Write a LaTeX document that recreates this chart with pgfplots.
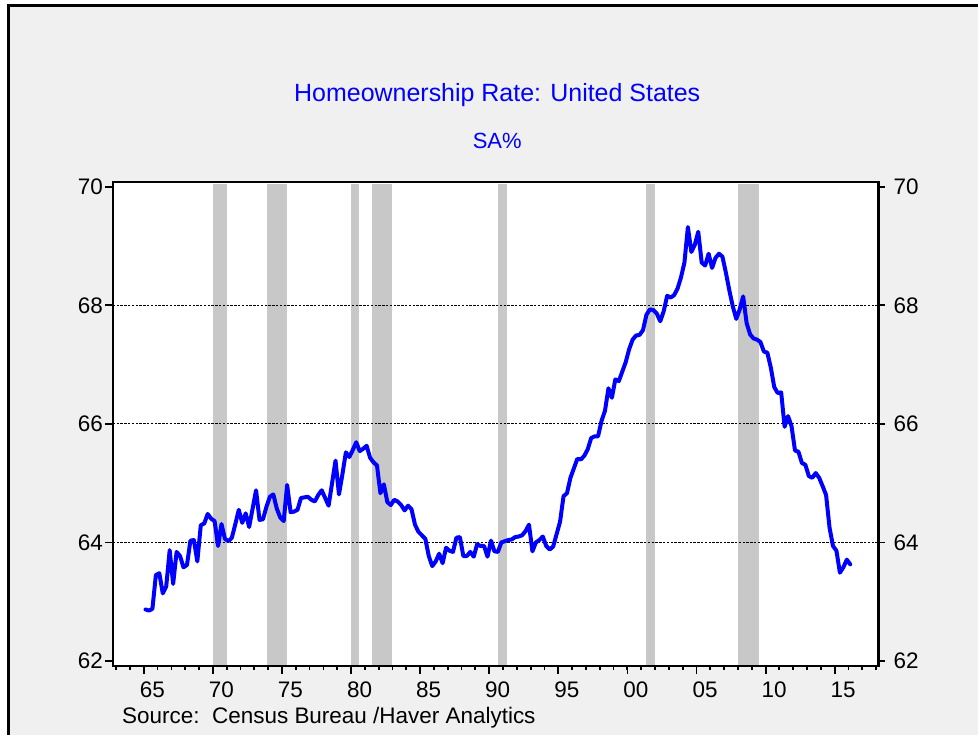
\documentclass[border=0pt]{standalone}
\usepackage{fontspec}
\setmainfont{Liberation Sans}
\usepackage{pgfplots}
\pgfplotsset{compat=1.18}
\definecolor{panel}{RGB}{240,240,240}
\definecolor{recess}{RGB}{200,200,200}
\definecolor{hblue}{RGB}{0,0,255}

\pgfplotsset{
  homebase/.style={
    at={(56.5pt,-333.5pt)}, anchor=south west,
    scale only axis, width=383.5pt, height=242.5pt,
    xmin=1962.76, xmax=2018.18, ymin=61.916, ymax=70.084,
    axis line style={line width=1.2pt},
    tick style={black, line width=0.9pt},
    tick align=outside,
    tick label style={font=\fontsize{11.25}{13}\selectfont},
    /pgf/number format/assume math mode=true,
  },
}

\begin{document}
\begin{tikzpicture}
\fill[white] (0,0) rectangle (489.5pt,-368pt);
\fill[panel] (4.5pt,-3pt) rectangle (489.5pt,-368pt);
\draw[line width=1.5pt] (4.5pt,-368pt) -- (4.5pt,-3pt) -- (489.5pt,-3pt);

\node[text=hblue, font=\fontsize{12.5}{15}\selectfont] at (249pt,-47.5pt) {Homeownership Rate: United States};
\node[text=hblue, font=\fontsize{11}{13}\selectfont] at (249pt,-70.5pt) {SA\%};
\node[anchor=west, inner sep=0pt, font=\fontsize{11.25}{13}\selectfont] at (61pt,-359.5pt) {Source:\ \ Census Bureau /Haver Analytics};

% plot area and recession shading
\begin{axis}[homebase,
    axis background/.style={fill=white},
    xtick=\empty, ytick=\empty,
]
\addplot[fill=recess, draw=none] coordinates {(1970.00,61.9) (1970.00,70.05) (1971.00,70.05) (1971.00,61.9)} --cycle;
\addplot[fill=recess, draw=none] coordinates {(1973.89,61.9) (1973.89,70.05) (1975.33,70.05) (1975.33,61.9)} --cycle;
\addplot[fill=recess, draw=none] coordinates {(1980.03,61.9) (1980.03,70.05) (1980.60,70.05) (1980.60,61.9)} --cycle;
\addplot[fill=recess, draw=none] coordinates {(1981.55,61.9) (1981.55,70.05) (1982.99,70.05) (1982.99,61.9)} --cycle;
\addplot[fill=recess, draw=none] coordinates {(1990.65,61.9) (1990.65,70.05) (1991.30,70.05) (1991.30,61.9)} --cycle;
\addplot[fill=recess, draw=none] coordinates {(2001.37,61.9) (2001.37,70.05) (2002.00,70.05) (2002.00,61.9)} --cycle;
\addplot[fill=recess, draw=none] coordinates {(2007.99,61.9) (2007.99,70.05) (2009.50,70.05) (2009.50,61.9)} --cycle;
\end{axis}

% grid, ticks and the series
\begin{axis}[homebase,
    xtick={1965,1970,...,2015},
    xticklabels={65,70,75,80,85,90,95,00,05,10,15},
    minor xtick={1963,...,2018},
    xticklabel style={xshift=4.25pt, yshift=-0.5pt},
    yticklabel style={xshift=2.5pt},
    ytick={62,64,...,70},
    ytick pos=left, xtick pos=bottom,
    major tick length=3.9pt, minor tick length=1.8pt,
    extra y ticks={64,66,68},
    extra y tick labels={,,},
    extra y tick style={grid=major, major tick length=0pt},
    major grid style={black, line width=0.5pt, dash pattern=on 1.2pt off 0.7pt},
]
% homeownership rate, quarterly
\addplot[hblue, line width=2pt, line join=round, line cap=round] coordinates {
(1965.125,62.87)(1965.375,62.85)(1965.625,62.88)(1965.875,63.45)
(1966.125,63.48)(1966.375,63.14)(1966.625,63.26)(1966.875,63.87)
(1967.125,63.30)(1967.375,63.84)(1967.625,63.77)(1967.875,63.58)
(1968.125,63.62)(1968.375,64.03)(1968.625,64.04)(1968.875,63.68)
(1969.125,64.29)(1969.375,64.32)(1969.625,64.48)(1969.875,64.40)
(1970.125,64.36)(1970.375,63.94)(1970.625,64.31)(1970.875,64.06)
(1971.125,64.02)(1971.375,64.08)(1971.625,64.31)(1971.875,64.55)
(1972.125,64.33)(1972.375,64.49)(1972.625,64.26)(1972.875,64.57)
(1973.125,64.88)(1973.375,64.38)(1973.625,64.39)(1973.875,64.60)
(1974.125,64.77)(1974.375,64.81)(1974.625,64.57)(1974.875,64.42)
(1975.125,64.36)(1975.375,64.97)(1975.625,64.51)(1975.875,64.52)
(1976.125,64.55)(1976.375,64.75)(1976.625,64.76)(1976.875,64.77)
(1977.125,64.72)(1977.375,64.69)(1977.625,64.80)(1977.875,64.88)
(1978.125,64.75)(1978.375,64.62)(1978.625,65.00)(1978.875,65.38)
(1979.125,64.81)(1979.375,65.15)(1979.625,65.52)(1979.875,65.44)
(1980.125,65.56)(1980.375,65.69)(1980.625,65.54)(1980.875,65.58)
(1981.125,65.63)(1981.375,65.43)(1981.625,65.35)(1981.875,65.30)
(1982.125,64.83)(1982.375,64.98)(1982.625,64.68)(1982.875,64.63)
(1983.125,64.72)(1983.375,64.69)(1983.625,64.63)(1983.875,64.54)
(1984.125,64.62)(1984.375,64.56)(1984.625,64.30)(1984.875,64.18)
(1985.125,64.12)(1985.375,64.06)(1985.625,63.77)(1985.875,63.60)
(1986.125,63.68)(1986.375,63.81)(1986.625,63.65)(1986.875,63.91)
(1987.125,63.86)(1987.375,63.84)(1987.625,64.08)(1987.875,64.09)
(1988.125,63.77)(1988.375,63.77)(1988.625,63.84)(1988.875,63.76)
(1989.125,63.97)(1989.375,63.94)(1989.625,63.94)(1989.875,63.76)
(1990.125,64.03)(1990.375,63.85)(1990.625,63.84)(1990.875,64.00)
(1991.125,64.02)(1991.375,64.04)(1991.625,64.05)(1991.875,64.09)
(1992.125,64.10)(1992.375,64.12)(1992.625,64.19)(1992.875,64.30)
(1993.125,63.85)(1993.375,64.00)(1993.625,64.04)(1993.875,64.10)
(1994.125,63.94)(1994.375,63.88)(1994.625,63.93)(1994.875,64.14)
(1995.125,64.35)(1995.375,64.78)(1995.625,64.83)(1995.875,65.09)
(1996.125,65.25)(1996.375,65.41)(1996.625,65.40)(1996.875,65.46)
(1997.125,65.57)(1997.375,65.76)(1997.625,65.79)(1997.875,65.79)
(1998.125,66.05)(1998.375,66.22)(1998.625,66.60)(1998.875,66.44)
(1999.125,66.75)(1999.375,66.72)(1999.625,66.88)(1999.875,67.04)
(2000.125,67.26)(2000.375,67.42)(2000.625,67.49)(2000.875,67.50)
(2001.125,67.58)(2001.375,67.84)(2001.625,67.93)(2001.875,67.92)
(2002.125,67.86)(2002.375,67.73)(2002.625,67.90)(2002.875,68.16)
(2003.125,68.13)(2003.375,68.17)(2003.625,68.28)(2003.875,68.47)
(2004.125,68.72)(2004.375,69.32)(2004.625,68.90)(2004.875,69.02)
(2005.125,69.24)(2005.375,68.72)(2005.625,68.67)(2005.875,68.87)
(2006.125,68.63)(2006.375,68.80)(2006.625,68.87)(2006.875,68.82)
(2007.125,68.55)(2007.375,68.25)(2007.625,67.98)(2007.875,67.77)
(2008.125,67.93)(2008.375,68.15)(2008.625,67.70)(2008.875,67.51)
(2009.125,67.44)(2009.375,67.42)(2009.625,67.38)(2009.875,67.22)
(2010.125,67.20)(2010.375,66.95)(2010.625,66.62)(2010.875,66.52)
(2011.125,66.53)(2011.375,65.95)(2011.625,66.13)(2011.875,65.96)
(2012.125,65.55)(2012.375,65.53)(2012.625,65.34)(2012.875,65.31)
(2013.125,65.12)(2013.375,65.09)(2013.625,65.17)(2013.875,65.09)
(2014.125,64.95)(2014.375,64.80)(2014.625,64.25)(2014.875,63.94)
(2015.125,63.86)(2015.375,63.49)(2015.625,63.58)(2015.875,63.71)
(2016.125,63.63)
};
\end{axis}

% right-hand scale
\begin{axis}[homebase,
    axis y line*=right, axis x line*=bottom,
    x axis line style={draw=none},
    xtick=\empty,
    ytick={62,64,...,70},
    yticklabel style={xshift=1pt},
    major tick length=3pt,
]
\addplot[draw=none] coordinates {(1970,65) (1980,66)};
\end{axis}
\end{tikzpicture}
\end{document}
